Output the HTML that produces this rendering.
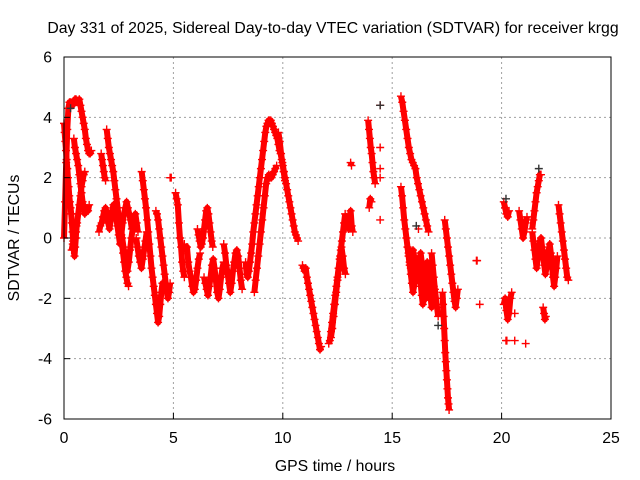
<!DOCTYPE html>
<html><head><meta charset="utf-8"><style>
html,body{margin:0;padding:0;background:#fff;}
svg{display:block;font-family:"Liberation Sans",sans-serif;}
</style></head><body>
<svg id="chart" width="640" height="480">
<rect x="0" y="0" width="640" height="480" fill="#fff"/>
<text x="333" y="33" font-size="15.8" text-anchor="middle">Day 331 of 2025, Sidereal Day-to-day VTEC variation (SDTVAR) for receiver krgg</text>
<text x="335" y="471" font-size="15.8" text-anchor="middle">GPS time / hours</text>
<text transform="translate(19,238) rotate(-90)" font-size="15.8" text-anchor="middle">SDTVAR / TECUs</text>
<g id="grid"></g><g id="marks"></g><g id="axes"></g>
</svg>
<script>
const xTicks=[0,5,10,15,20,25];
const yTicks=[-6,-4,-2,0,2,4,6];
const trackStarts=[0.00,0.00,0.35,0.45,1.6,1.95,1.7,2.6,3.55,3.3,4.2,4.85,5.1,5.5,6.1,6.4,7.3,8.3,8.7,9.8,10.9,12.1,12.2,12.9,13.1,13.9,13.95,15.4,15.4,15.7,16.8,17.3,17.4,18.85,20.1,20.1,20.2,20.8,21.4,21.4,21.9,22.6];
const trackSteps=[0.05,0.03,0.05,0.05,0.06,0.05,0.04,0.06,0.05,0.06,0.05,0.05,0.05,0.06,0.05,0.06,0.06,0.05,0.06,0.06,0.05,0.05,0.06,0.05,0.04,0.04,0.05,0.06,0.05,0.05,0.05,0.025,0.05,0.03,0.06,0.06,0.04,0.06,0.05,0.05,0.04,0.05];
const trackValues=[
[0.0,1.2,2.5,3.6,4.3,4.5,4.5,4.4,4.4,4.5,4.6,4.6,4.5,4.5,4.6,4.4,4.2,4.0,3.8,3.6,3.3,3.1,2.9,2.8,2.8,2.9],
[3.8,3.5,3.2,2.9,2.6,2.3,2.0,1.7,1.4,1.2,1.0,0.8,0.5,0.2,-0.1,-0.4,-0.6,-0.3,0.0,0.4],
[-0.4,-0.2,-0.1,0.0,0.2,0.5,0.8,1.1,1.4,1.7,1.9,2.1,2.2],
[3.3,3.0,2.8,2.6,2.4,2.1,1.8,1.5,1.2,1.0,0.8,0.9,1.0,0.9,1.1],
[0.2,0.4,0.5,0.7,0.9,1.0,0.8,0.5,0.3,0.6,0.9,1.1,1.0,0.7,0.4,0.1,-0.2,0.1,0.5,0.8,1.0,1.2,1.0,0.8,0.6,0.3],
[3.6,3.3,3.0,2.8,2.6,2.4,2.2,1.9,1.6,1.3,1.0,0.7,0.4,0.1,-0.2,-0.5,-0.8,-1.1,-1.3,-1.5,-1.6],
[2.8,2.6,2.4,2.2,2.0,1.9],
[0.4,0.0,-0.3,-0.6,-0.9,-1.1,-0.8,-0.4,0.0,0.3,0.6,0.8,0.5,0.2],
[2.2,1.9,1.6,1.3,1.0,0.6,0.2,-0.2,-0.6,-1.0,-1.3,-1.6,-1.9,-2.2,-2.5,-2.8,-2.6,-2.2,-1.8,-1.5,-1.7],
[0.0,-0.3,-0.6,-0.8,-1.0,-0.7,-0.4,-0.1,0.2],
[0.9,0.8,0.6,0.3,0.0,-0.3,-0.6,-0.9,-1.2,-1.5,-1.8,-2.0,-1.8,-1.5],
[2.0,2.0],
[1.5,1.3,1.1,0.5,0.0,-0.3,-0.8,-1.1,-1.3],
[-0.2,-0.4,-0.3,-0.8,-1.1,-1.3,-1.6,-1.8,-1.7,-1.4,-1.0,-0.7,-0.5],
[0.3,0.1,-0.1,-0.3,-0.2,0.0,0.3,0.6,0.9,1.0,0.8,0.5,0.2,-0.1,-0.3],
[-1.3,-1.5,-1.7,-1.9,-1.6,-1.3,-0.9,-0.7,-1.0,-1.4,-1.8,-2.0,-1.7,-1.3,-1.0,-0.8],
[-0.2,-0.5,-0.9,-1.2,-1.5,-1.8,-1.5,-1.1,-0.8,-0.5,-0.4,-0.6,-1.0,-1.4,-1.7],
[-0.8,-1.2,-1.3,-1.1,-0.8,-0.5,-0.2,0.2,0.5,0.8,1.1,1.4,1.7,2.0,2.3,2.6,2.9,3.2,3.5,3.7,3.8,3.9,3.9,3.9,3.8,3.7,3.6,3.5,3.4,3.3,3.1,2.9,2.8,2.6,2.4,2.2,2.0,1.8,1.6,1.4,1.2,1.0,0.8,0.6,0.4,0.2,0.1,0.0,-0.1],
[-1.8,-1.4,-1.0,-0.6,-0.2,0.2,0.6,1.0,1.4,1.8,2.0,2.1,2.0,2.0,2.1,2.2,2.3,2.4],
[3.5,3.2,2.8,2.5,2.2,1.9],
[-0.9,-1.0,-1.1,-1.0,-1.3,-1.5,-1.7,-1.9,-2.1,-2.3,-2.5,-2.7,-2.9,-3.1,-3.3,-3.5,-3.7,-3.6],
[-3.5,-3.4,-3.1,-2.8,-2.5,-2.2,-1.9,-1.6,-1.3,-1.0,-0.7,-0.4,-0.1,0.2,0.5,0.8],
[-3.3,-3.0,-2.6,-2.2,-1.8,-1.4,-1.0,-0.6,-0.3,-0.6,-1.0,-1.2],
[0.7,0.5,0.3,0.6,0.9,0.4,0.2],
[2.5,2.4],
[3.9,3.6,3.3,3.0,2.8,2.5,2.2,2.0,1.8],
[1.0,1.3,1.2],
[4.7,4.5,4.2,3.9,3.6,3.3,3.0,2.8,2.6,2.5,2.4,2.3,2.0,1.8,1.6,1.4,1.2,1.0,0.8,0.6,0.4,0.2],
[1.7,1.4,1.0,0.6,0.3,0.0,-0.3,-0.6,-0.9,-1.2,-1.5,-1.8,-1.6,-1.3,-1.0,-0.7,-0.9,-1.2,-1.5,-1.9,-2.2,-1.8,-1.4,-1.0,-0.8,-1.1,-1.5,-1.9,-2.3,-2.0,-1.6],
[-0.3,-0.5,-0.8,-1.0,-0.7,-0.4,-0.6,-0.9,-1.2,-1.4,-1.1,-0.8,-0.5,-0.8,-1.1,-1.4,-1.7,-2.0,-1.7,-1.4,-1.1],
[-0.5,-0.9,-1.3,-1.7,-2.0,-2.3,-2.6],
[-1.8,-2.2,-2.6,-3.0,-3.4,-3.8,-4.1,-4.4,-4.7,-5.0,-5.3,-5.5,-5.7],
[0.6,0.3,0.0,-0.3,-0.6,-0.9,-1.2,-1.5,-1.8,-2.1,-2.3,-2.0,-1.7],
[-0.75,-0.75],
[1.2,1.0,0.8,0.7,0.9],
[-2.2,-2.0,-2.4,-2.7,-2.5,-2.0,-1.8],
[-3.4,-3.4],
[0.9,0.6,0.3,0.0,0.2,0.5,0.7],
[0.3,0.6,0.9,1.2,1.5,1.7,1.9,2.1,2.1],
[0.2,-0.1,-0.4,-0.7,-1.0,-0.7,-0.4,-0.1,0.0,-0.3,-0.6,-0.9,-1.2,-1.0,-0.7,-0.4,-0.2,-0.5,-0.9,-1.3,-1.6,-1.3,-1.0,-0.6],
[-2.3,-2.5,-2.7,-2.6],
[1.1,0.8,0.5,0.2,-0.1,-0.4,-0.7,-1.0,-1.3,-1.4]
];
const isoTimes=[14.45,14.45,14.45,14.45,14.45,19.0,20.6,21.1,20.6,16.2];
const isoValues=[4.4,3.0,2.3,2.0,0.6,-2.2,-2.5,-3.5,-3.4,0.3];
const blackTimes=[14.45,21.7,20.2,17.1,16.1,0.3];
const blackValues=[4.4,2.3,1.3,-2.9,0.4,4.3];

const L=64,R=611,T=57,B=419;
const xS=t=>L+(t-0)/(25-0)*(R-L);
const yS=v=>B-(v+6)/12*(B-T);
const NS='http://www.w3.org/2000/svg';
const grid=document.getElementById('grid'),marks=document.getElementById('marks'),axes=document.getElementById('axes');
function mk(tag,attrs,parent){const e=document.createElementNS(NS,tag);for(const k in attrs)e.setAttribute(k,attrs[k]);parent.appendChild(e);return e;}
xTicks.forEach(t=>{
  if(t>0&&t<25){const g=mk('line',{x1:xS(t),x2:xS(t),y1:T,y2:B,stroke:'#a0a0a0','stroke-dasharray':'2,3'},grid);
  
  }
  const tk=mk('line',{x1:xS(t),x2:xS(t),y1:B,y2:B-6,stroke:'#000'},axes);
  
  
  const lb=mk('text',{x:xS(t),y:B+24,'font-size':15.8,'text-anchor':'middle'},axes);lb.textContent=t;
  
  
});
yTicks.forEach(v=>{
  if(v>-6&&v<6){const g=mk('line',{x1:L,x2:R,y1:yS(v),y2:yS(v),stroke:'#a0a0a0','stroke-dasharray':'2,3'},grid);
  
  }
  const tk=mk('line',{x1:L,x2:L+6,y1:yS(v),y2:yS(v),stroke:'#000'},axes);
  
  
  const lb=mk('text',{x:L-12,y:yS(v)+5.5,'font-size':15.8,'text-anchor':'end'},axes);lb.textContent=v;
  
  
});
const fr=mk('rect',{x:L,y:T,width:R-L,height:B-T,fill:'none',stroke:'#000'},axes);


function plus(t,v,col){
  const x=xS(t),y=yS(v);
  const p=mk('path',{d:`M${x-4},${y}h8M${x},${y-4}v8`,stroke:col,'stroke-width':1.4,fill:'none'},marks);
  
  
}
trackValues.forEach((vals,i)=>{
  const pts=vals.map((v,j)=>[trackStarts[i]+j*trackSteps[i],v]);
  const pl=mk('polyline',{points:pts.map(p=>xS(p[0])+','+yS(p[1])).join(' '),stroke:'#f00','stroke-width':6,fill:'none','stroke-linejoin':'round'},marks);
  
  
  pts.forEach(p=>plus(p[0],p[1],'#f00'));
});
isoTimes.forEach((t,i)=>plus(t,isoValues[i],'#f00'));
blackTimes.forEach((t,i)=>plus(t,blackValues[i],'#333'));
</script>
</body></html>
